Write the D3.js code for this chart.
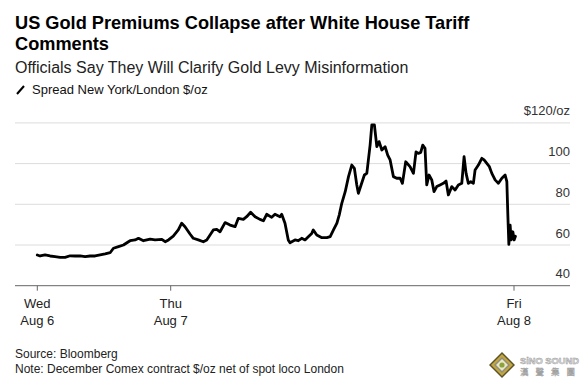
<!DOCTYPE html>
<html>
<head>
<meta charset="utf-8">
<script src="https://cdn.jsdelivr.net/npm/d3@7"></script>
<style>
  body { margin: 0; background: #fff; }
  svg { display: block; font-family: "Liberation Sans", Arial, sans-serif; }
</style>
</head>
<body>
<svg id="chart"></svg>
<script>
(function() {
  'use strict';
  // spread New York/London, $/oz
  // hours counted from Wed Aug 6 00:00
  var wedHours = [0, 0.5, 1.4, 2.3, 3.2, 4.1, 5.0, 5.9, 6.8, 7.7, 8.6, 9.5, 10.4, 11.3, 12.2,
    13.1, 13.7, 14.6, 15.5, 16.4, 16.7, 17.6, 18.2, 19.1, 20.3, 21.2, 22.4, 23.0, 23.6];
  var wedSpread = [55.1, 54.6, 55.1, 54.6, 54.3, 53.9, 53.9, 54.7, 54.6, 54.7, 54.3, 54.6, 54.6, 55.1, 55.6,
    56.2, 58.4, 59.2, 60.0, 61.6, 62.1, 62.5, 63.3, 62.1, 62.9, 62.5, 62.8, 61.6, 62.5];

  var thuHours = [24.18, 24.53, 24.77, 25.0, 25.35, 25.58, 25.93, 26.28, 26.52, 26.75,
    26.98, 27.22, 27.45, 27.80, 28.15, 28.50, 28.73, 29.08, 29.31, 29.59,
    29.90, 30.24, 30.48, 30.71, 31.06, 31.29, 31.64, 31.76, 31.99, 32.22,
    32.34, 32.69, 32.92, 33.16, 33.39, 33.62, 33.86, 33.97, 34.21, 34.57,
    34.92, 35.15, 35.38, 35.62, 35.78, 35.96, 36.20, 36.43, 36.66, 36.84,
    37.01, 37.12, 37.31, 37.54, 37.71, 37.82, 37.94, 38.06, 38.24, 38.41,
    38.57, 38.76, 38.99, 39.17, 39.34, 39.57, 39.80, 40.04, 40.20, 40.43,
    40.73, 40.97, 41.15, 41.31, 41.48, 41.62, 41.78, 41.90, 42.06, 42.25,
    42.41, 42.60, 42.83, 43.06, 43.25, 43.41, 43.65, 43.88, 44.11, 44.35,
    44.51, 44.65, 44.81, 44.98, 45.16, 45.28, 45.51, 45.75, 45.91, 46.10,
    46.28, 46.45, 46.68, 46.91, 47.15, 47.38, 47.50, 47.57, 47.64, 47.73,
    47.80, 47.92, 48.01, 48.10];
  var thuSpread = [64.4, 67.4, 70.7, 69.0, 65.4, 63.3, 62.5, 61.6, 62.5, 64.9,
    67.4, 67.7, 66.5, 71.0, 69.8, 69.0, 73.1, 72.6, 73.9, 76.1,
    73.9, 72.6, 71.9, 75.1, 73.6, 75.1, 73.9, 75.1, 70.7, 62.5,
    61.1, 62.5, 62.1, 63.3, 62.5, 64.1, 65.7, 67.4, 64.9, 63.6,
    63.6, 64.1, 67.4, 70.7, 74.7, 80.5, 86.2, 93.6, 99.3, 97.7,
    89.5, 85.4, 89.5, 94.4, 95.2, 101.8, 109.1, 119.0, 119.0, 108.3,
    110.8, 106.7, 108.3, 104.2, 101.8, 93.6, 92.8, 92.8, 90.3, 100.9,
    98.5, 95.2, 105.8, 105.0, 105.5, 109.1, 107.5, 89.5, 94.4, 92.0,
    86.2, 88.7, 89.5, 90.3, 91.4, 84.6, 88.7, 87.0, 89.5, 90.3,
    103.4, 95.2, 90.3, 91.1, 90.3, 96.9, 99.3, 102.6, 101.8, 100.1,
    98.5, 95.2, 92.0, 90.3, 92.8, 94.4, 91.1, 74.7, 60.3, 69.8,
    62.5, 66.5, 62.5, 64.3];

  var dayTicks = [0, 24, 48];
  var dayNames = ['Wed', 'Thu', 'Fri'];
  var dayDates = ['Aug 6', 'Aug 7', 'Aug 8'];
  var yTicks = [40, 60, 80, 100, 120];

  var width = 588, height = 387;
  var left = 15, right = 570, top = 122.9, bottom = 285.7;

  var svg = d3.select('#chart').attr('width', width).attr('height', height);

  var data = [];
  wedHours.forEach(function(h, i) { data.push({h: h, v: wedSpread[i]}); });
  thuHours.forEach(function(h, i) { data.push({h: h, v: thuSpread[i]}); });

  // overnight hours are squeezed, like the source chart
  var x = d3.scaleLinear().domain(dayTicks).range([37.3, 170.7, 514]);
  var y = d3.scaleLinear().domain([40, 120]).range([bottom, top]);

  // titles
  svg.append('text').attr('x', 15).attr('y', 29)
    .attr('font-size', 18.2).attr('font-weight', 'bold').attr('fill', '#000')
    .text('US Gold Premiums Collapse after White House Tariff');
  svg.append('text').attr('x', 15).attr('y', 50)
    .attr('font-size', 18.2).attr('font-weight', 'bold').attr('fill', '#000')
    .text('Comments');
  svg.append('text').attr('x', 15).attr('y', 72.5)
    .attr('font-size', 16).attr('fill', '#222')
    .text('Officials Say They Will Clarify Gold Levy Misinformation');

  // legend
  svg.append('line').attr('x1', 17).attr('y1', 94).attr('x2', 24).attr('y2', 86)
    .attr('stroke', '#000').attr('stroke-width', 2);
  svg.append('text').attr('x', 32).attr('y', 94)
    .attr('font-size', 13).attr('fill', '#111')
    .text('Spread New York/London $/oz');

  // grid
  var grid = svg.append('g');
  grid.selectAll('line').data(yTicks.slice(1)).enter().append('line')
    .attr('x1', left).attr('x2', right)
    .attr('y1', function(d) { return y(d); })
    .attr('y2', function(d) { return y(d); })
    .attr('stroke', '#dcdcdc').attr('stroke-width', 1);

  grid.selectAll('text').data(yTicks).enter().append('text')
    .attr('x', right).attr('y', function(d) { return y(d) - 7.5; })
    .attr('text-anchor', 'end').attr('font-size', 13).attr('fill', '#333')
    .text(function(d) { return d === 120 ? '$120/oz' : d; });

  // x axis
  var xAxis = svg.append('g');
  xAxis.append('line').attr('x1', left).attr('x2', right)
    .attr('y1', bottom).attr('y2', bottom)
    .attr('stroke', '#666').attr('stroke-width', 1);
  var tk = xAxis.selectAll('g.tick').data(dayTicks).enter().append('g')
    .attr('class', 'tick')
    .attr('transform', function(d) { return 'translate(' + x(d) + ',0)'; });
  tk.append('line').attr('y1', bottom).attr('y2', bottom + 5)
    .attr('stroke', '#666');
  tk.append('text').attr('y', 308).attr('text-anchor', 'middle')
    .attr('font-size', 13).attr('fill', '#222')
    .text(function(d, i) { return dayNames[i]; });
  tk.append('text').attr('y', 324.5).attr('text-anchor', 'middle')
    .attr('font-size', 13).attr('fill', '#222')
    .text(function(d, i) { return dayDates[i]; });

  // the line
  var line = d3.line()
    .x(function(d) { return x(d.h); })
    .y(function(d) { return y(d.v); });
  svg.append('path').datum(data)
    .attr('fill', 'none')
    .attr('stroke', '#000')
    .attr('stroke-width', 2.8)
    .attr('stroke-linejoin', 'round')
    .attr('stroke-linecap', 'round')
    .attr('d', line);

  // footer
  svg.append('text').attr('x', 15).attr('y', 357.5)
    .attr('font-size', 12).attr('fill', '#222').text('Source: Bloomberg');
  svg.append('text').attr('x', 15).attr('y', 372.5)
    .attr('font-size', 12).attr('fill', '#222')
    .text('Note: December Comex contract $/oz net of spot loco London');

  // watermark logo
  var logo = svg.append('g').attr('transform', 'translate(502,365)');
  var diamond = function(r) { return 'M0,' + (-r) + 'L' + r + ',0L0,' + r + 'L' + (-r) + ',0Z'; };
  logo.append('path').attr('d', diamond(13)).attr('fill', '#5b5328');
  logo.append('path').attr('d', diamond(11)).attr('fill', '#c4a640');
  logo.append('path').attr('d', diamond(8)).attr('fill', '#8d8d80');
  logo.append('path').attr('d', diamond(6)).attr('fill', '#ece6c6');
  logo.append('circle').attr('r', 2.6).attr('fill', '#8aa43c');
  svg.append('text').attr('x', 520).attr('y', 364)
    .attr('font-size', 9.3).attr('font-weight', 'bold')
    .attr('fill', '#e4e4e4').attr('stroke', '#9a9a9a').attr('stroke-width', 0.5)
    .text('SiNO SOUND');
  svg.append('text').attr('x', 520).attr('y', 375)
    .attr('font-size', 8.5).attr('letter-spacing', 7)
    .attr('font-family', '"Noto Sans CJK TC", sans-serif')
    .attr('fill', '#dedede').attr('stroke', '#a0a0a0').attr('stroke-width', 0.4)
    .text('漢聲集團');
}());
</script>
</body>
</html>
